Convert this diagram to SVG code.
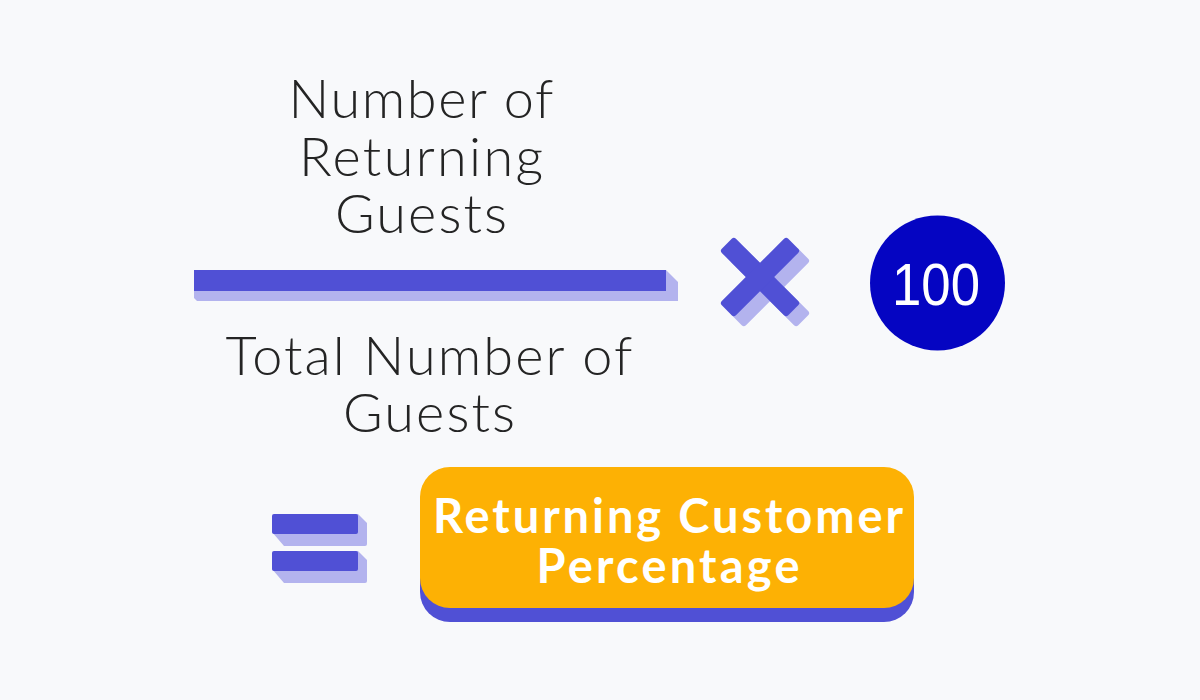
<svg xmlns="http://www.w3.org/2000/svg" width="1200" height="700" viewBox="0 0 1200 700">
  <style>
    .label { font-family: Lato, "Liberation Sans", sans-serif; font-weight: 300; fill: #242424; font-size: 54px; text-anchor: middle; }
    .main { fill: #5050D5; }
    .shade { fill: #B3B3EE; }
    .result { font-family: Lato, "Liberation Sans", sans-serif; font-weight: 700; fill: #FFFFFF; font-size: 47px; text-anchor: middle; }
    .num { font-family: "Liberation Sans", Arial, sans-serif; fill: #FFFFFF; font-size: 60px; text-anchor: middle; }
  </style>
  <rect width="1200" height="700" fill="#F8F9FB"/>

  <g id="numerator">
    <text class="label" x="421" y="118" textLength="265" lengthAdjust="spacing">Number of</text>
    <text class="label" x="421" y="176" textLength="244" lengthAdjust="spacing">Returning</text>
    <text class="label" x="421" y="233" textLength="172" lengthAdjust="spacing">Guests</text>
  </g>

  <g id="fraction-bar">
    <path class="shade" d="M666,270 L678,282 L678,301 L197,301 L194,298 L194,290 Z"/>
    <rect class="main" x="194" y="270" width="472" height="21"/>
  </g>

  <g id="denominator">
    <text class="label" x="429" y="375" textLength="407" lengthAdjust="spacing">Total Number of</text>
    <text class="label" x="429" y="432" textLength="172" lengthAdjust="spacing">Guests</text>
  </g>

  <g id="times">
    <g transform="translate(770,287) rotate(45)">
      <rect class="shade" x="-47" y="-10" width="94" height="20" rx="3"/>
      <rect class="shade" x="-10" y="-47" width="20" height="94" rx="3"/>
    </g>
    <g transform="translate(760,277) rotate(45)">
      <rect class="main" x="-47" y="-10" width="94" height="20" rx="3"/>
      <rect class="main" x="-10" y="-47" width="20" height="94" rx="3"/>
    </g>
  </g>

  <g id="hundred">
    <circle cx="937.5" cy="283" r="67.5" fill="#0505C2"/>
    <text class="num" x="936" y="305" textLength="88" lengthAdjust="spacingAndGlyphs">100</text>
  </g>

  <g id="equals">
    <path class="shade" d="M358,514 L367,523 L367,544 Q367,546 365,546 L284,546 L272,532 L272,516 Z"/>
    <rect class="main" x="272" y="514" width="86" height="20" rx="2"/>
    <path class="shade" d="M358,551 L367,560 L367,581 Q367,583 365,583 L284,583 L272,569 L272,553 Z"/>
    <rect class="main" x="272" y="551" width="86" height="20" rx="2"/>
  </g>

  <g id="result">
    <rect x="420" y="481" width="494" height="141" rx="30" fill="#5050D5"/>
    <rect x="420" y="467" width="494" height="141" rx="30" fill="#FDB104"/>
    <text class="result" x="668" y="533" textLength="470" lengthAdjust="spacing">Returning Customer</text>
    <text class="result" x="668" y="583" textLength="263" lengthAdjust="spacing">Percentage</text>
  </g>
</svg>
